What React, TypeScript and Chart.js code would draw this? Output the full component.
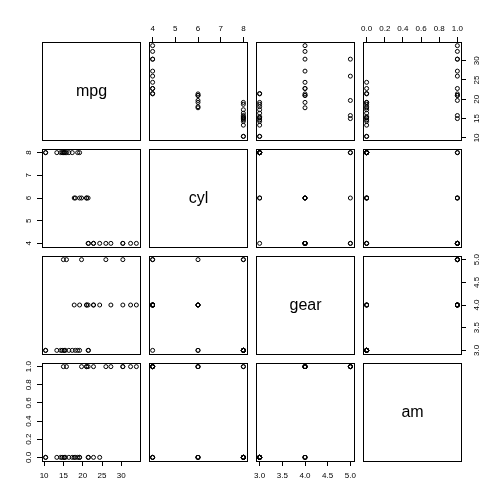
import React, { useEffect, useRef } from "react";
import { Chart, registerables } from "chart.js";

Chart.register(...registerables);

// ---- Data (mtcars, read from the scatterplot matrix) ----
const varNames = ["mpg", "cyl", "gear", "am"];
const mpg = [21.0, 21.0, 22.8, 21.4, 18.7, 18.1, 14.3, 24.4, 22.8, 19.2, 17.8, 16.4, 17.3, 15.2, 10.4, 10.4, 14.7, 32.4, 30.4, 33.9, 21.5, 15.5, 15.2, 13.3, 19.2, 27.3, 26.0, 30.4, 15.8, 19.7, 15.0, 21.4];
const cyl = [6, 6, 4, 6, 8, 6, 8, 4, 4, 6, 6, 8, 8, 8, 8, 8, 8, 4, 4, 4, 4, 8, 8, 8, 8, 4, 4, 4, 8, 6, 8, 4];
const gear = [4, 4, 4, 3, 3, 3, 3, 4, 4, 4, 4, 3, 3, 3, 3, 3, 3, 4, 4, 4, 3, 3, 3, 3, 3, 4, 5, 5, 5, 5, 5, 4];
const am = [1, 1, 1, 0, 0, 0, 0, 0, 0, 0, 0, 0, 0, 0, 0, 0, 0, 1, 1, 1, 0, 0, 0, 0, 0, 1, 1, 1, 1, 1, 1, 1];

// ---- Tick values and labels ----
const mpgTicks = [10, 15, 20, 25, 30];
const mpgTickLabels = ["10", "15", "20", "25", "30"];
const cylTicks = [4, 5, 6, 7, 8];
const cylTickLabels = ["4", "5", "6", "7", "8"];
const gearTicks = [3, 3.5, 4, 4.5, 5];
const gearTickLabels = ["3.0", "3.5", "4.0", "4.5", "5.0"];
const amTicks = [0, 0.2, 0.4, 0.6, 0.8, 1];
const amTickLabels = ["0.0", "0.2", "0.4", "0.6", "0.8", "1.0"];

const columns = [mpg, cyl, gear, am];
const tickSets = [mpgTicks, cylTicks, gearTicks, amTicks];
const tickLabelSets = [mpgTickLabels, cylTickLabels, gearTickLabels, amTickLabels];
// padding for rotated vertical labels (compensates Chart.js centring by widest label)
const leftPad = [0, 5.8, 0, 2.4];
const rightPad = [6, 0, 4.9, 0];

const FONT = "'Liberation Sans', Arial, sans-serif";
const CANVAS = 504;
const P0 = 42;
const STEP = 107;
const SIZE = 98;
const AXIS = 30;

function range(v: number[]): [number, number] {
  const lo = Math.min(...v);
  const hi = Math.max(...v);
  const d = (hi - lo) * 0.04;
  return [lo - d, hi + d];
}

function makeConfig(r: number, c: number): any {
  const x0 = P0 + STEP * c;
  const y0 = P0 + STEP * r;
  const diag = r === c;
  const xPos = c % 2 === 0 ? "bottom" : "top";
  const showX = !diag && ((c % 2 === 0 && r === 3) || (c % 2 === 1 && r === 0));
  const yPos = r % 2 === 0 ? "right" : "left";
  const showY = !diag && ((r % 2 === 0 && c === 3) || (r % 2 === 1 && c === 0));

  const padding = {
    left: x0 - (showY && yPos === "left" ? AXIS : 0),
    right: CANVAS - (x0 + SIZE) - (showY && yPos === "right" ? AXIS : 0),
    top: y0 - (showX && xPos === "top" ? AXIS : 0),
    bottom: CANVAS - (y0 + SIZE) - (showX && xPos === "bottom" ? AXIS : 0),
  };

  const [xmin, xmax] = range(columns[c]);
  const [ymin, ymax] = range(columns[r]);
  const xs = columns[c];
  const ys = columns[r];

  const boxPlugin = {
    id: "panelBox" + r + c,
    afterDraw(chart: any) {
      const { ctx, chartArea } = chart;
      const { left, top, right, bottom } = chartArea;
      ctx.save();
      ctx.strokeStyle = "#000";
      ctx.lineWidth = 1;
      ctx.strokeRect(left + 0.5, top + 0.5, right - left, bottom - top);
      if (diag) {
        ctx.fillStyle = "#000";
        ctx.font = "16px " + FONT;
        ctx.textAlign = "center";
        ctx.textBaseline = "alphabetic";
        ctx.fillText(varNames[r], (left + right) / 2 + 0.5, (top + bottom) / 2 + 4.5);
      }
      ctx.restore();
    },
  };

  const grid = {
    display: true,
    drawOnChartArea: false,
    drawTicks: true,
    tickLength: 5,
    color: "#000",
    lineWidth: 1,
  };

  return {
    type: "scatter",
    data: {
      datasets: diag
        ? []
        : [
            {
              data: xs.map((x, i) => ({ x, y: ys[i] })),
              pointRadius: 2,
              pointHoverRadius: 2,
              pointBorderWidth: 1,
              borderColor: "#000",
              backgroundColor: "rgba(0,0,0,0)",
              pointStyle: "circle",
              showLine: false,
            },
          ],
    },
    options: {
      animation: false,
      responsive: false,
      devicePixelRatio: 1,
      events: [],
      layout: { padding },
      plugins: { legend: { display: false }, tooltip: { enabled: false }, title: { display: false } },
      scales: {
        x: {
          type: "linear",
          position: xPos,
          display: showX,
          min: xmin,
          max: xmax,
          afterBuildTicks: (s: any) => {
            s.ticks = tickSets[c].map((v) => ({ value: v }));
          },
          afterFit: showX
            ? (s: any) => {
                s.height = AXIS;
              }
            : undefined,
          grid,
          border: { display: false },
          ticks: {
            color: "#000",
            font: { family: FONT, size: 8 },
            padding: xPos === "top" ? 3 : 5,
            minRotation: 0,
            maxRotation: 0,
            autoSkip: false,
            callback: (_v: any, i: number) => tickLabelSets[c][i],
          },
        },
        y: {
          type: "linear",
          position: yPos,
          display: showY,
          min: ymin,
          max: ymax,
          afterBuildTicks: (s: any) => {
            s.ticks = tickSets[r].map((v) => ({ value: v }));
          },
          afterFit: showY
            ? (s: any) => {
                s.width = AXIS;
              }
            : undefined,
          grid,
          border: { display: false },
          ticks: {
            color: "#000",
            font: { family: FONT, size: 8 },
            padding: yPos === "left" ? leftPad[r] : rightPad[r],
            minRotation: 90,
            maxRotation: 90,
            crossAlign: "center",
            autoSkip: false,
            callback: (_v: any, i: number) => tickLabelSets[r][i],
          },
        },
      },
    },
    plugins: [boxPlugin],
  };
}

const panels: [number, number][] = [];
for (let r = 0; r < 4; r++) for (let c = 0; c < 4; c++) panels.push([r, c]);

export default function App() {
  const refs = useRef<(HTMLCanvasElement | null)[]>([]);

  useEffect(() => {
    const charts = panels.map(([r, c], i) => {
      const canvas = refs.current[i] as HTMLCanvasElement;
      return new Chart(canvas, makeConfig(r, c));
    });
    return () => charts.forEach((ch) => ch.destroy());
  }, []);

  return (
    <div
      style={{
        position: "absolute",
        left: 0,
        top: 0,
        width: CANVAS,
        height: CANVAS,
        background: "#fff",
      }}
    >
      {panels.map((_p, i) => (
        <canvas
          key={i}
          ref={(el) => {
            refs.current[i] = el;
          }}
          width={CANVAS}
          height={CANVAS}
          style={{ position: "absolute", left: 0, top: 0, width: CANVAS, height: CANVAS }}
        />
      ))}
    </div>
  );
}
